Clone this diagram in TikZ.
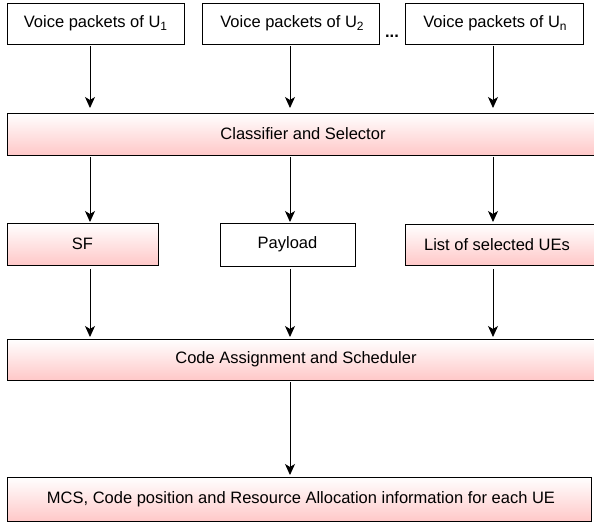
\documentclass[tikz,border=0pt]{standalone}
\usepackage{fontspec}
\setmainfont{Liberation Sans}
\usetikzlibrary{arrows.meta}
\definecolor{pinkend}{HTML}{FFC8C8}
\newcommand{\sbs}[1]{\raisebox{-0.3ex}{\fontsize{12}{14}\selectfont #1}}
\begin{document}
\begin{tikzpicture}[x=1pt,y=-1pt,
  txt/.style={font=\fontsize{16.5}{19}\selectfont},
  plain/.style={draw=black,line width=0.9pt,fill=white},
  pink/.style={draw=black,line width=0.9pt,top color=white,bottom color=pinkend},
  arr/.style={line width=0.9pt,-{Stealth[length=11pt,width=10pt,inset=3pt]}}]
\useasboundingbox (0,0) rectangle (594,529);
% top boxes
\path[plain] (7,3) rectangle (184,44); \node[txt] (u1) at (95.5,23.5) {Voice packets of U\sbs{1}};
\path[plain] (202,3) rectangle (379,44); \node[txt] (u2) at (292,23.5) {Voice packets of U\sbs{2}};
\path[plain] (405,3) rectangle (583,44); \node[txt] (un) at (495,23.5) {Voice packets of U\sbs{n}};
\node[txt,font=\bfseries\fontsize{16.5}{19}\selectfont,anchor=base] (dots) at (392,38) {...};
% classifier
\path[pink] (7,113) rectangle (597,155);
\node[txt] (cls) at (303,134) {Classifier and Selector};
% middle boxes
\path[pink] (7,223) rectangle (158,265); \node[txt] (sf) at (82.5,244) {SF};
\path[plain] (220,223) rectangle (355,266); \node[txt] (pl) at (287.5,244.5) {Payload};
\path[pink] (405,224) rectangle (597,265); \node[txt] (ls) at (497,244.5) {List of selected UEs};
% code box
\path[pink] (7,339) rectangle (597,380);
\node[txt] (cas) at (296,359.5) {Code Assignment and Scheduler};
% MCS box
\path[pink] (7,477) rectangle (591,521);
\node[txt] (mcs) at (301,499) {MCS, Code position and Resource Allocation information for each UE};
% coordinates
\coordinate (a1s) at (90,46); \coordinate (a1e) at (90,108);
\coordinate (a2s) at (290,46); \coordinate (a2e) at (290,108);
\coordinate (a3s) at (493,46); \coordinate (a3e) at (493,108);
\coordinate (b1s) at (90,157); \coordinate (b1e) at (90,222);
\coordinate (b2s) at (290,157); \coordinate (b2e) at (290,222);
\coordinate (b3s) at (493,157); \coordinate (b3e) at (493,222);
\coordinate (c1s) at (90,269); \coordinate (c1e) at (90,337);
\coordinate (c2s) at (290,269); \coordinate (c2e) at (290,337);
\coordinate (c3s) at (493,269); \coordinate (c3e) at (493,337);
\coordinate (ds) at (290,382); \coordinate (de) at (290,475);
\draw[arr] (a1s) -- (a1e);
\draw[arr] (a2s) -- (a2e);
\draw[arr] (a3s) -- (a3e);
\draw[arr] (b1s) -- (b1e);
\draw[arr] (b2s) -- (b2e);
\draw[arr] (b3s) -- (b3e);
\draw[arr] (c1s) -- (c1e);
\draw[arr] (c2s) -- (c2e);
\draw[arr] (c3s) -- (c3e);
\draw[arr] (ds) -- (de);
\end{tikzpicture}
\end{document}
